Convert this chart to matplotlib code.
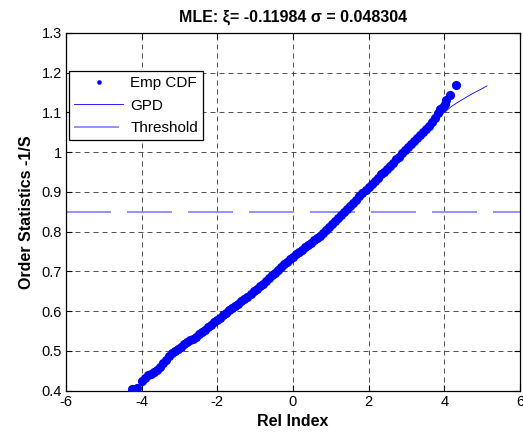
import matplotlib
matplotlib.use("Agg")
import matplotlib.pyplot as plt
from matplotlib.ticker import FormatStrFormatter, MultipleLocator

plt.rcParams['font.family'] = ['Liberation Sans', 'DejaVu Sans']
plt.rcParams['font.size'] = 10

# empirical points (rel index, order statistic)
emp_x = [-4.26, -4.11,
         -4.00, -3.92, -3.84, -3.76, -3.68, -3.60, -3.52, -3.44, -3.36, -3.28,
         -3.20, -3.12, -3.04, -2.96, -2.88, -2.80, -2.72, -2.64, -2.56, -2.48,
         -2.40, -2.32, -2.24, -2.16, -2.08, -2.00, -1.92, -1.84, -1.76, -1.68,
         -1.60, -1.52, -1.44, -1.36, -1.28, -1.20, -1.12, -1.04, -0.96, -0.88,
         -0.80, -0.72, -0.64, -0.56, -0.48, -0.40, -0.32, -0.24, -0.16, -0.08,
         0.00, 0.08, 0.16, 0.24, 0.32, 0.40, 0.48, 0.56, 0.64, 0.72,
         0.80, 0.88, 0.96, 1.04, 1.12, 1.20, 1.28, 1.36, 1.44, 1.52,
         1.60, 1.68, 1.76, 1.84, 1.92, 2.00, 2.08, 2.16, 2.24, 2.32,
         2.40, 2.48, 2.56, 2.64, 2.72, 2.80, 2.88, 2.96, 3.04, 3.12,
         3.20, 3.28, 3.36, 3.44, 3.52, 3.60, 3.68, 3.76, 3.84, 3.90,
         3.96, 4.02, 4.06, 4.15, 4.32]
emp_y = [0.404, 0.407,
         0.425, 0.433, 0.439, 0.443, 0.446, 0.451, 0.459, 0.469, 0.478, 0.487,
         0.494, 0.499, 0.505, 0.511, 0.517, 0.522, 0.527, 0.531, 0.536, 0.542,
         0.548, 0.554, 0.560, 0.566, 0.572, 0.578, 0.584, 0.590, 0.596, 0.602,
         0.607, 0.613, 0.619, 0.625, 0.631, 0.637, 0.644, 0.651, 0.657, 0.663,
         0.669, 0.676, 0.683, 0.690, 0.697, 0.704, 0.711, 0.718, 0.724, 0.731,
         0.737, 0.743, 0.749, 0.755, 0.761, 0.766, 0.772, 0.778, 0.784, 0.790,
         0.797, 0.805, 0.812, 0.820, 0.827, 0.835, 0.842, 0.850, 0.857, 0.865,
         0.873, 0.881, 0.889, 0.897, 0.904, 0.912, 0.920, 0.928, 0.936, 0.944,
         0.951, 0.959, 0.966, 0.974, 0.982, 0.989, 0.997, 1.005, 1.013, 1.020,
         1.028, 1.035, 1.043, 1.050, 1.058, 1.066, 1.075, 1.087, 1.099, 1.108,
         1.115, 1.121, 1.131, 1.143, 1.168]

# fitted GPD tail
gpd_x = [3.85, 4.00, 4.20, 4.40, 4.70, 5.00, 5.13]
gpd_y = [1.086, 1.100, 1.116, 1.128, 1.145, 1.160, 1.167]

threshold = 0.85
x_lim = [-6, 6]
y_lim = [0.4, 1.3]

fig = plt.figure(figsize=(5.23, 4.4), dpi=100)
ax = fig.add_axes([0.126, 0.112, 0.868, 0.813])

ax.plot(emp_x, emp_y, 'o', color='#0000ff', markersize=6.6,
        markeredgewidth=0, label='Emp CDF', zorder=3)
ax.plot(gpd_x, gpd_y, '-', color='#0000ff', linewidth=0.6, label='GPD', zorder=4)
ax.plot(x_lim, [threshold, threshold], color='#8080ff', linewidth=1.2,
        dashes=(27, 9.6), label='Threshold', zorder=2)

ax.set_xlim(x_lim)
ax.set_ylim(y_lim)
ax.xaxis.set_major_locator(MultipleLocator(2))
ax.yaxis.set_major_locator(MultipleLocator(0.1))
ax.yaxis.set_major_formatter(FormatStrFormatter('%g'))
ax.xaxis.set_major_formatter(FormatStrFormatter('%g'))

ax.grid(True, color='#333333', linewidth=0.6, dashes=(6, 4.8))
ax.tick_params(direction='in', length=4, width=0.8, top=True, right=True,
               labelsize=10.5, pad=3, colors='black')
for sp in ax.spines.values():
    sp.set_linewidth(0.9)

ax.set_title('MLE: ξ= -0.11984 σ = 0.048304', fontweight='bold', fontsize=11.5, pad=8)
ax.set_xlabel('Rel Index', fontweight='bold', fontsize=11.5, labelpad=4)
ax.set_ylabel('Order Statistics -1/S', fontweight='bold', fontsize=11.5, labelpad=5)

leg = ax.legend(loc='upper left', bbox_to_anchor=(0.007, 0.894), borderaxespad=0,
                fancybox=False, framealpha=1, edgecolor='black', fontsize=11,
                handlelength=3.2, handletextpad=0.45, labelspacing=0.55,
                borderpad=0.35, markerscale=0.5)
leg.get_frame().set_linewidth(0.9)

fig.savefig('out.png', dpi=100)
